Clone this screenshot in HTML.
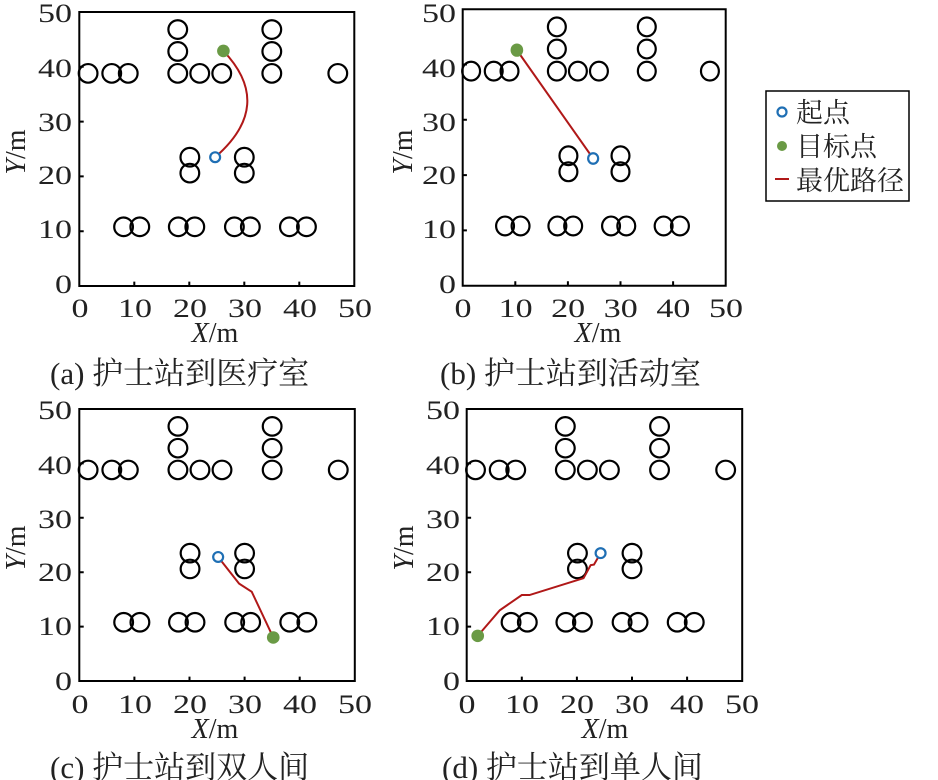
<!DOCTYPE html>
<html><head><meta charset="utf-8"><style>
body{margin:0;background:#fff;}
svg{display:block;}
text{font-family:"Liberation Serif","Noto Serif CJK SC",serif;fill:#222;}
</style></head><body>
<svg width="938" height="780" viewBox="0 0 938 780" xmlns="http://www.w3.org/2000/svg">
<defs>
<g id="obs" fill="none" stroke="#000" stroke-width="2.2">
<circle vector-effect="non-scaling-stroke" cx="1.6" cy="38.8" r="1.7"/>
<circle vector-effect="non-scaling-stroke" cx="5.9" cy="38.8" r="1.7"/>
<circle vector-effect="non-scaling-stroke" cx="8.9" cy="38.8" r="1.7"/>
<circle vector-effect="non-scaling-stroke" cx="17.9" cy="38.8" r="1.7"/>
<circle vector-effect="non-scaling-stroke" cx="17.9" cy="42.8" r="1.7"/>
<circle vector-effect="non-scaling-stroke" cx="17.9" cy="46.8" r="1.7"/>
<circle vector-effect="non-scaling-stroke" cx="21.9" cy="38.8" r="1.7"/>
<circle vector-effect="non-scaling-stroke" cx="25.9" cy="38.8" r="1.7"/>
<circle vector-effect="non-scaling-stroke" cx="35" cy="38.8" r="1.7"/>
<circle vector-effect="non-scaling-stroke" cx="35" cy="42.8" r="1.7"/>
<circle vector-effect="non-scaling-stroke" cx="35" cy="46.8" r="1.7"/>
<circle vector-effect="non-scaling-stroke" cx="47" cy="38.8" r="1.7"/>
<circle vector-effect="non-scaling-stroke" cx="20.1" cy="23.5" r="1.7"/>
<circle vector-effect="non-scaling-stroke" cx="20.1" cy="20.6" r="1.7"/>
<circle vector-effect="non-scaling-stroke" cx="30" cy="23.5" r="1.7"/>
<circle vector-effect="non-scaling-stroke" cx="30" cy="20.6" r="1.7"/>
<circle vector-effect="non-scaling-stroke" cx="8.05" cy="10.8" r="1.7"/>
<circle vector-effect="non-scaling-stroke" cx="11" cy="10.8" r="1.7"/>
<circle vector-effect="non-scaling-stroke" cx="18" cy="10.8" r="1.7"/>
<circle vector-effect="non-scaling-stroke" cx="21" cy="10.8" r="1.7"/>
<circle vector-effect="non-scaling-stroke" cx="28.2" cy="10.8" r="1.7"/>
<circle vector-effect="non-scaling-stroke" cx="31.1" cy="10.8" r="1.7"/>
<circle vector-effect="non-scaling-stroke" cx="38.2" cy="10.8" r="1.7"/>
<circle vector-effect="non-scaling-stroke" cx="41.3" cy="10.8" r="1.7"/>
</g>
<g id="frame" fill="none" stroke="#000" stroke-width="2">
<rect vector-effect="non-scaling-stroke" x="0" y="0" width="50" height="50"/>
<path vector-effect="non-scaling-stroke" d="M10 0v0.8M20 0v0.8M30 0v0.8M40 0v0.8M0 10h0.8M0 20h0.8M0 30h0.8M0 40h0.8"/>
</g>
<g id="yt" font-size="26" text-anchor="end">
<text x="0" y="0" textLength="34" lengthAdjust="spacingAndGlyphs">50</text>
<text x="0" y="55" textLength="34" lengthAdjust="spacingAndGlyphs">40</text>
<text x="0" y="109" textLength="34" lengthAdjust="spacingAndGlyphs">30</text>
<text x="0" y="162" textLength="34" lengthAdjust="spacingAndGlyphs">20</text>
<text x="0" y="216" textLength="34" lengthAdjust="spacingAndGlyphs">10</text>
<text x="0" y="271" textLength="17" lengthAdjust="spacingAndGlyphs">0</text>
</g>
<g id="xt" font-size="26" text-anchor="middle">
<text x="0" y="0" textLength="17" lengthAdjust="spacingAndGlyphs">0</text>
<text x="55" y="0" textLength="34" lengthAdjust="spacingAndGlyphs">10</text>
<text x="110" y="0" textLength="34" lengthAdjust="spacingAndGlyphs">20</text>
<text x="165" y="0" textLength="34" lengthAdjust="spacingAndGlyphs">30</text>
<text x="220" y="0" textLength="34" lengthAdjust="spacingAndGlyphs">40</text>
<text x="275" y="0" textLength="34" lengthAdjust="spacingAndGlyphs">50</text>
</g>
<g id="xtb" font-size="26" text-anchor="middle">
<text x="0" y="0" textLength="17" lengthAdjust="spacingAndGlyphs">0</text>
<text x="52.6" y="0" textLength="34" lengthAdjust="spacingAndGlyphs">10</text>
<text x="105.2" y="0" textLength="34" lengthAdjust="spacingAndGlyphs">20</text>
<text x="157.8" y="0" textLength="34" lengthAdjust="spacingAndGlyphs">30</text>
<text x="210.4" y="0" textLength="34" lengthAdjust="spacingAndGlyphs">40</text>
<text x="263" y="0" textLength="34" lengthAdjust="spacingAndGlyphs">50</text>
</g>
</defs>

<g transform="translate(79.3,286) scale(5.5,-5.48)">
<use href="#obs"/><use href="#frame"/>
<path vector-effect="non-scaling-stroke" d="M24.7 23.5 Q35.6 33 26.2 42.9" fill="none" stroke="#b01818" stroke-width="2"/>
<circle cx="24.7" cy="23.5" r="0.9" fill="#fff" stroke="#1f6fb4" stroke-width="2.2" vector-effect="non-scaling-stroke"/>
<circle cx="26.2" cy="42.9" r="1.15" fill="#6a9a45"/>
</g>
<g transform="translate(462.7,285.7) scale(5.26,-5.53)">
<use href="#obs"/><use href="#frame"/>
<path vector-effect="non-scaling-stroke" d="M24.8 23 L10.3 42.6" fill="none" stroke="#b01818" stroke-width="2"/>
<circle cx="24.8" cy="23" r="0.95" fill="#fff" stroke="#1f6fb4" stroke-width="2.2" vector-effect="non-scaling-stroke"/>
<circle cx="10.3" cy="42.6" r="1.2" fill="#6a9a45"/>
</g>
<g transform="translate(79.3,681) scale(5.51,-5.44)">
<use href="#obs"/><use href="#frame"/>
<path vector-effect="non-scaling-stroke" d="M25.2 22.8 L29 17.9 L31.3 16.4 L35.2 8" fill="none" stroke="#b01818" stroke-width="2"/>
<circle cx="25.2" cy="22.8" r="0.9" fill="#fff" stroke="#1f6fb4" stroke-width="2.2" vector-effect="non-scaling-stroke"/>
<circle cx="35.2" cy="8" r="1.15" fill="#6a9a45"/>
</g>
<g transform="translate(466.7,681) scale(5.51,-5.44)">
<use href="#obs"/><use href="#frame"/>
<path vector-effect="non-scaling-stroke" d="M2 8.3 L6 13 L10 15.8 L11.4 15.8 L21.2 18.9 L22.5 21.3 L23.1 21.4 L24.3 23.5" fill="none" stroke="#b01818" stroke-width="2"/>
<circle cx="24.3" cy="23.5" r="0.9" fill="#fff" stroke="#1f6fb4" stroke-width="2.2" vector-effect="non-scaling-stroke"/>
<circle cx="2" cy="8.3" r="1.15" fill="#6a9a45"/>
</g>

<use href="#yt" x="72" y="22"/>
<use href="#xt" x="80" y="317"/>
<use href="#yt" x="456" y="22"/>
<use href="#xtb" x="463" y="317"/>
<use href="#yt" x="72" y="419"/>
<use href="#xt" x="80" y="713"/>
<use href="#yt" x="460" y="419"/>
<use href="#xt" x="467" y="713"/>

<g font-size="28" text-anchor="middle">
<text x="215" y="342"><tspan font-style="italic">X</tspan>/m</text>
<text transform="translate(25,152) rotate(-90)"><tspan font-style="italic">Y</tspan>/m</text>
<text x="598" y="342"><tspan font-style="italic">X</tspan>/m</text>
<text transform="translate(412,152) rotate(-90)"><tspan font-style="italic">Y</tspan>/m</text>
<text x="215" y="738"><tspan font-style="italic">X</tspan>/m</text>
<text transform="translate(25,548) rotate(-90)"><tspan font-style="italic">Y</tspan>/m</text>
<text x="605" y="738"><tspan font-style="italic">X</tspan>/m</text>
<text transform="translate(413,548) rotate(-90)"><tspan font-style="italic">Y</tspan>/m</text>
</g>
<g font-size="31">
<text x="50" y="384">(a) 护士站到医疗室</text>
<text x="440" y="384">(b) 护士站到活动室</text>
<text x="50" y="778">(c) 护士站到双人间</text>
<text x="442" y="778">(d) 护士站到单人间</text>
</g>

<rect x="766" y="91" width="143" height="110" fill="#fff" stroke="#000" stroke-width="1.5"/>
<circle cx="782" cy="112" r="4.5" fill="none" stroke="#1f6fb4" stroke-width="2.2"/>
<circle cx="782" cy="146" r="5" fill="#6a9a45"/>
<line x1="775" y1="179" x2="789" y2="179" stroke="#b01818" stroke-width="2"/>
<g font-size="27">
<text x="796" y="122">起点</text>
<text x="796" y="156">目标点</text>
<text x="796" y="190">最优路径</text>
</g>
</svg>
</body></html>
